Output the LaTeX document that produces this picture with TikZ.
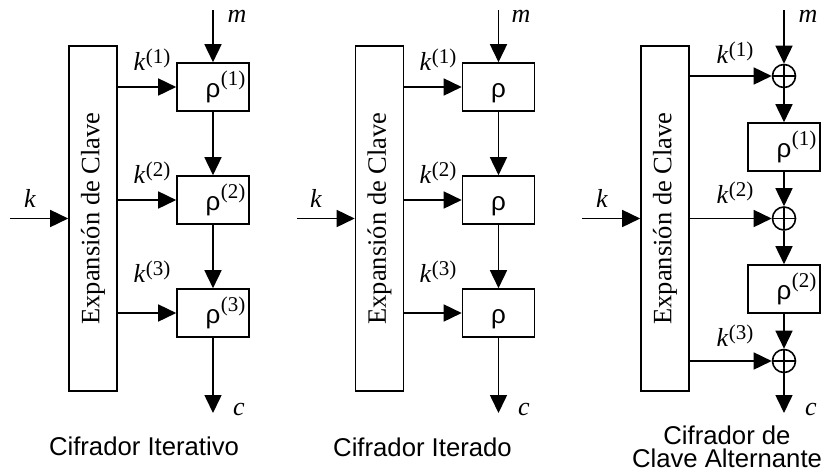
\documentclass[tikz,border=0pt]{standalone}
\usepackage{fontspec}
\setmainfont{Liberation Serif}
\newfontfamily\sansf{Liberation Sans}
\usetikzlibrary{arrows.meta}
\newcommand{\supx}[2]{\raisebox{#1}{\rmfamily\upshape\fontsize{21}{22}\selectfont(#2)}}
\newcommand{\kk}[1]{\textit{k\/}\kern0.3pt\supx{7pt}{#1}}
\newcommand{\rr}[1]{ρ\rlap{\kern0.5pt\supx{12pt}{#1}}}
\begin{document}
\begin{tikzpicture}[x=1pt,y=-1pt,
  line width=1.6pt,
  arr/.style={-{Triangle[length=18pt,width=17pt]}},
  rbox/.style={draw, rectangle, minimum width=72pt, minimum height=48pt, inner sep=0pt,
    text height=20pt, text depth=0pt, font=\sansf\fontsize{26}{30}\selectfont},
  ebox/.style={draw, rectangle, minimum width=48pt, minimum height=345pt, inner sep=0pt},
  etext/.style={rotate=90, inner sep=0pt, font=\fontsize{26.5}{30}\selectfont},
  xor/.style={draw, circle, minimum size=23pt, inner sep=0pt,
    path picture={\draw[line width=1.4pt] (path picture bounding box.north) -- (path picture bounding box.south)
      (path picture bounding box.west) -- (path picture bounding box.east);}},
  lbl/.style={inner sep=0pt, anchor=base, font=\fontsize{26}{30}\selectfont},
  captxt/.style={inner sep=0pt, align=center, font=\sansf\fontsize{25.7}{22.5}\selectfont},
]
\useasboundingbox (0,0) rectangle (823,472);

% ---------------- Panel 1: Cifrador Iterativo ----------------
\node[ebox] (E1) at (93,218.5) {};
\node[etext] (ET1) at (E1.center) {Expansión de Clave};
\node[rbox] (R11) at (213,87) {\rr{1}};
\node[rbox] (R12) at (213,200) {\rr{2}};
\node[rbox] (R13) at (213,313) {\rr{3}};
\coordinate (M1) at (213,10);
\coordinate (C1) at (213,413);
\coordinate (K1) at (10,218.5);
\draw[arr] (M1) -- (R11.north);
\draw[arr] (R11.south) -- (R12.north);
\draw[arr] (R12.south) -- (R13.north);
\draw[arr] (R13.south) -- (C1);
\draw[arr] (K1) -- (E1.west);
\draw[arr] (E1.east |- R11) -- (R11.west);
\draw[arr] (E1.east |- R12) -- (R12.west);
\draw[arr] (E1.east |- R13) -- (R13.west);
\node[lbl] (m1) at (237,22) {\textit{m}};
\node[lbl] (c1) at (239,415) {\textit{c}};
\node[lbl] (k1) at (30,207) {\textit{k}};
\node[lbl] (k11) at (152,70) {\kk{1}};
\node[lbl] (k12) at (152,183) {\kk{2}};
\node[lbl] (k13) at (152,282) {\kk{3}};
\node[captxt, anchor=base] (cap1) at (144,455) {Cifrador Iterativo};

% ---------------- Panel 2: Cifrador Iterado ----------------
\node[ebox] (E2) at (379.5,218.5) {};
\node[etext] (ET2) at (E2.center) {Expansión de Clave};
\node[rbox] (R21) at (498.5,87) {ρ};
\node[rbox] (R22) at (498.5,200) {ρ};
\node[rbox] (R23) at (498.5,313) {ρ};
\coordinate (M2) at (498.5,10);
\coordinate (C2) at (498.5,413);
\coordinate (K2) at (297,218.5);
\draw[arr] (M2) -- (R21.north);
\draw[arr] (R21.south) -- (R22.north);
\draw[arr] (R22.south) -- (R23.north);
\draw[arr] (R23.south) -- (C2);
\draw[arr] (K2) -- (E2.west);
\draw[arr] (E2.east |- R21) -- (R21.west);
\draw[arr] (E2.east |- R22) -- (R22.west);
\draw[arr] (E2.east |- R23) -- (R23.west);
\node[lbl] (m2) at (521,22) {\textit{m}};
\node[lbl] (c2) at (524,415) {\textit{c}};
\node[lbl] (k2) at (316,207) {\textit{k}};
\node[lbl] (k21) at (438,70) {\kk{1}};
\node[lbl] (k22) at (438,183) {\kk{2}};
\node[lbl] (k23) at (438,282) {\kk{3}};
\node[captxt, anchor=base] (cap2) at (422.5,456) {Cifrador Iterado};

% ---------------- Panel 3: Cifrador de Clave Alternante ----------------
\node[ebox] (E3) at (665,218.5) {};
\node[etext] (ET3) at (E3.center) {Expansión de Clave};
\node[xor] (X1) at (784,76) {};
\node[rbox] (R31) at (784,147) {\rr{1}};
\node[xor] (X2) at (784,218.5) {};
\node[rbox] (R32) at (784,289) {\rr{2}};
\node[xor] (X3) at (784,361) {};
\coordinate (M3) at (784,10);
\coordinate (C3) at (784,413);
\coordinate (K3) at (582,218.5);
\draw[arr] (M3) -- (X1.north);
\draw[arr] (X1.south) -- (R31.north);
\draw[arr] (R31.south) -- (X2.north);
\draw[arr] (X2.south) -- (R32.north);
\draw[arr] (R32.south) -- (X3.north);
\draw[arr] (X3.south) -- (C3);
\draw[arr] (K3) -- (E3.west);
\draw[arr] (E3.east |- X1) -- (X1.west);
\draw[arr] (E3.east |- X2) -- (X2.west);
\draw[arr] (E3.east |- X3) -- (X3.west);
\node[lbl] (m3) at (808,22) {\textit{m}};
\node[lbl] (c3) at (811,415) {\textit{c}};
\node[lbl] (k3) at (602,207) {\textit{k}};
\node[lbl] (k31) at (735,63) {\kk{1}};
\node[lbl] (k32) at (735,203) {\kk{2}};
\node[lbl] (k33) at (735,346) {\kk{3}};
\node[captxt] (cap3) at (727,446.6) {Cifrador de\\Clave Alternante};
\end{tikzpicture}
\end{document}
